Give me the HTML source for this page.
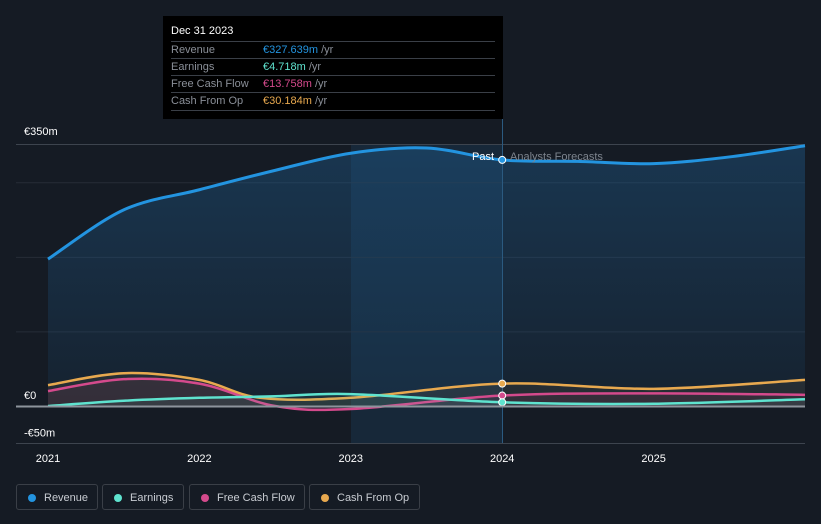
<!DOCTYPE html>
<html><head><meta charset="utf-8"><style>
body{margin:0;background:#151b24;font-family:"Liberation Sans",sans-serif;}
#wrap{position:relative;width:821px;height:524px;overflow:hidden;background:#151b24}
.tt{position:absolute;left:163px;top:16px;width:340px;height:103px;background:#000;color:#fff;font-size:11px}
.tt .h{position:absolute;left:8px;top:9px;font-size:11px}
.row{position:absolute;left:8px;width:324px;border-top:1px solid #3a3f47;height:17px;line-height:17px;color:#8a8f98}
.row span{position:absolute;left:92px}
.lg{position:absolute;top:484px;height:26px;border:1px solid #3a3f47;border-radius:3px;color:#c8ccd2;font-size:11px;line-height:26px;box-sizing:border-box;padding-left:27px}
.lg i{position:absolute;left:11px;top:9px;width:8px;height:8px;border-radius:50%}
</style></head><body><div id="wrap">
<svg id="svg" width="821" height="524" style="position:absolute;left:0;top:0"></svg>
<div class="tt">
<div class="h">Dec 31 2023</div>
<div class="row" style="top:25px">Revenue<span><b style="font-weight:normal;color:#2394e0">€327.639m</b> /yr</span></div>
<div class="row" style="top:42px">Earnings<span><b style="font-weight:normal;color:#5fe3cf">€4.718m</b> /yr</span></div>
<div class="row" style="top:59px">Free Cash Flow<span><b style="font-weight:normal;color:#d44a8c">€13.758m</b> /yr</span></div>
<div class="row" style="top:76px;border-bottom:1px solid #3a3f47">Cash From Op<span><b style="font-weight:normal;color:#e8a94f">€30.184m</b> /yr</span></div>
</div>
<div class="lg" style="left:16px;width:82px"><i style="background:#2394e0"></i>Revenue</div>
<div class="lg" style="left:102px;width:82px"><i style="background:#5fe3cf"></i>Earnings</div>
<div class="lg" style="left:189px;width:116px"><i style="background:#d44a8c"></i>Free Cash Flow</div>
<div class="lg" style="left:309px;width:111px"><i style="background:#e8a94f"></i>Cash From Op</div>
</div>
<script>
const revX=[2021,2021.5,2022,2022.5,2023,2023.5,2024,2024.5,2025,2025.5,2026];
const revY=[197,263,290,316,339,346,330,328,325,334,349];
const cfoX=[2021,2021.5,2022,2022.4,2023,2024,2025,2026];
const cfoY=[28,44,35,11,11,30,23,35];
const fcfX=[2021,2021.5,2022,2022.5,2023,2024,2025,2026];
const fcfY=[20,36,30,0,-4,14,17,15];
const earnX=[2021,2021.5,2022,2022.5,2023,2024,2025,2026];
const earnY=[0,7,11,13,16,5,3,9];
const yTicks=[350,0,-50];
const yTickLabels=["€350m","€0","-€50m"];
const gridVals=[300,200,100];
const xTicks=[2021,2022,2023,2024,2025];
const NS="http://www.w3.org/2000/svg",svg=document.getElementById('svg');
const X=v=>48+(v-2021)*151.4, Y=v=>406-v*0.7457;
function mk(t,a,p){const e=document.createElementNS(NS,t);for(const k in a)e.setAttribute(k,a[k]);(p||svg).appendChild(e);return e;}
function path(xs,ys){const P=xs.map((x,i)=>[X(x),Y(ys[i])]);let d='M'+P[0];for(let i=0;i<P.length-1;i++){const p0=P[i-1]||P[i],p1=P[i],p2=P[i+1],p3=P[i+2]||p2;d+=`C${p1[0]+(p2[0]-p0[0])/6},${p1[1]+(p2[1]-p0[1])/6} ${p2[0]-(p3[0]-p1[0])/6},${p2[1]-(p3[1]-p1[1])/6} ${p2[0]},${p2[1]}`;}return d;}
const defs=mk('defs',{});
const g=mk('linearGradient',{id:'rg',x1:0,y1:0,x2:0,y2:1},defs);
mk('stop',{offset:0,'stop-color':'#1f5f93','stop-opacity':0.4},g);mk('stop',{offset:1,'stop-color':'#1f5f93','stop-opacity':0.1},g);
mk('rect',{x:351,y:145,width:151,height:298,fill:'#1a3a55',opacity:0.45});
gridVals.forEach(v=>{mk('line',{x1:16,x2:805,y1:Y(v)+0.5,y2:Y(v)+0.5,stroke:'#262d37'});});
const ar=mk('path',{d:path(revX,revY)+`L${X(2026)},${Y(0)}L${X(2021)},${Y(0)}Z`,fill:'url(#rg)'});
mk('line',{x1:16,x2:805,y1:Y(350)-0.5,y2:Y(350)-0.5,stroke:'#3d444e'});
mk('line',{x1:16,x2:805,y1:443.5,y2:443.5,stroke:'#3d444e'});
mk('line',{x1:502.5,x2:502.5,y1:119,y2:443,stroke:'#2b5a80'});
const series=[[cfoX,cfoY,'#e8a94f','cash-from-op-line'],[fcfX,fcfY,'#d44a8c','free-cash-flow-line'],[earnX,earnY,'#5fe3cf','earnings-line'],[revX,revY,'#2394e0','revenue-line']];
series.forEach(s=>{if(s[3]!='revenue-line')mk('path',{d:path(s[0],s[1])+`L${X(s[0][s[0].length-1])},${Y(0)}L${X(2021)},${Y(0)}Z`,fill:s[2],opacity:0.08});
const p=mk('path',{d:path(s[0],s[1]),fill:'none',stroke:s[2],'stroke-width':s[3]=='revenue-line'?3:2.5});
const i=s[0].indexOf(2024);const c=mk('circle',{cx:X(2024),cy:Y(s[1][i]),r:3.5,fill:s[2],stroke:'#fff','stroke-width':1});});
mk('line',{x1:16,x2:805,y1:406.5,y2:406.5,stroke:'#8d949c','stroke-width':2});
yTicks.forEach((v,i)=>{const t=mk('text',{x:24,y:Y(v)-(v==350?10:7),fill:'#fff','font-size':11});t.textContent=yTickLabels[i];});
xTicks.forEach(v=>{const t=mk('text',{x:X(v),y:462,fill:'#fff','font-size':11,'text-anchor':'middle'});t.textContent=v;});
let t=mk('text',{x:494,y:160,fill:'#fff','font-size':11,'text-anchor':'end'});t.textContent='Past';
t=mk('text',{x:510,y:160,fill:'#7d848e','font-size':11});t.textContent='Analysts Forecasts';
</script></body></html>
